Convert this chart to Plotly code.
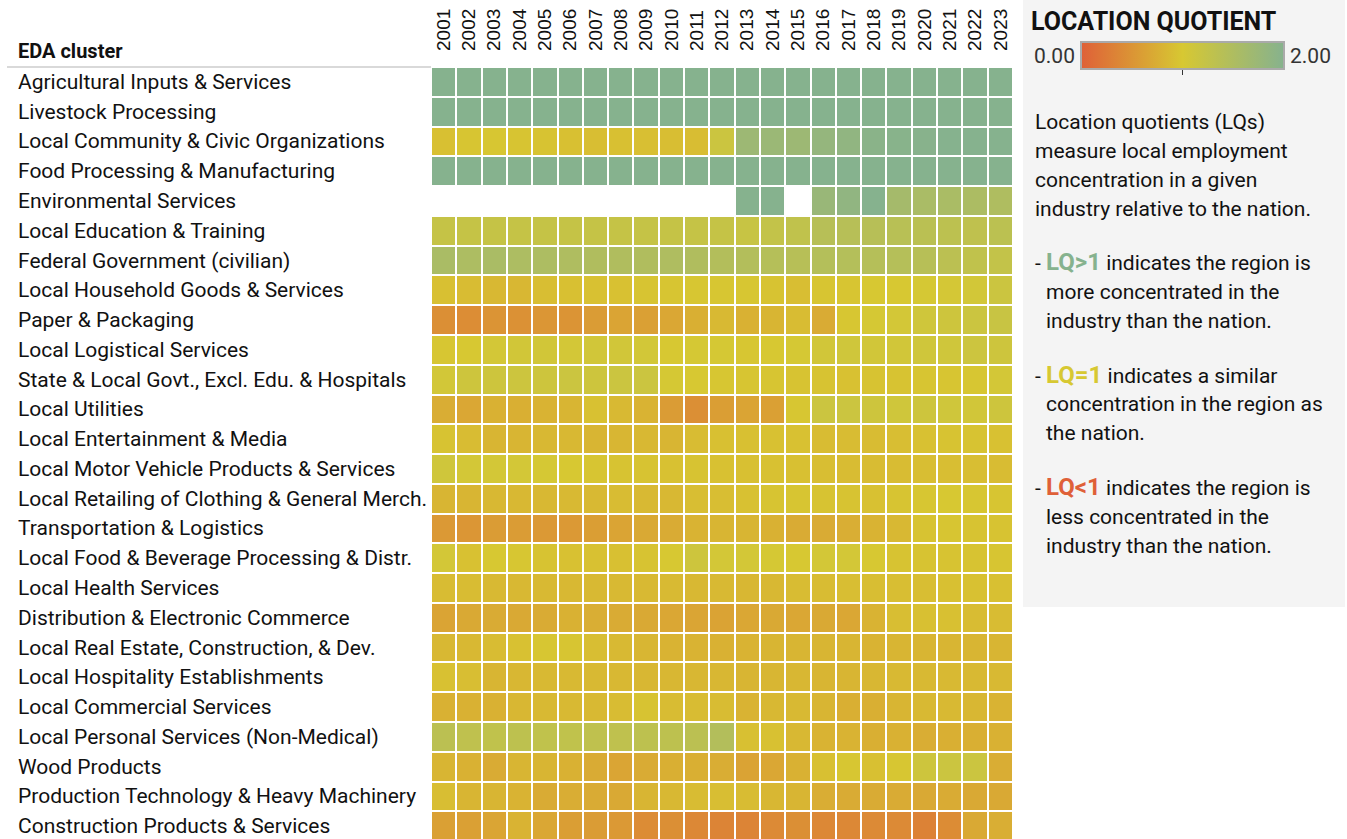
import plotly.graph_objects as go

W, H = 1347, 839

years = [str(y) for y in range(2001, 2024)]

clusters = [
    "Agricultural Inputs & Services",
    "Livestock Processing",
    "Local Community & Civic Organizations",
    "Food Processing & Manufacturing",
    "Environmental Services",
    "Local Education & Training",
    "Federal Government (civilian)",
    "Local Household Goods & Services",
    "Paper & Packaging",
    "Local Logistical Services",
    "State & Local Govt., Excl. Edu. & Hospitals",
    "Local Utilities",
    "Local Entertainment & Media",
    "Local Motor Vehicle Products & Services",
    "Local Retailing of Clothing & General Merch.",
    "Transportation & Logistics",
    "Local Food & Beverage Processing & Distr.",
    "Local Health Services",
    "Distribution & Electronic Commerce",
    "Local Real Estate, Construction, & Dev.",
    "Local Hospitality Establishments",
    "Local Commercial Services",
    "Local Personal Services (Non-Medical)",
    "Wood Products",
    "Production Technology & Heavy Machinery",
    "Construction Products & Services",
]

N = None
agricultural_inputs = [3.4, 3.5, 3.5, 3.6, 3.5, 3.4, 3.3, 3.3, 3.2, 3.2, 3.1, 3.1, 3.0, 3.0, 2.9, 2.9, 2.9, 2.8, 2.8, 2.8, 2.7, 2.7, 2.6]
livestock_processing = [4.2, 4.3, 4.4, 4.3, 4.2, 4.1, 4.0, 4.0, 3.9, 3.8, 3.8, 3.7, 3.7, 3.6, 3.6, 3.5, 3.5, 3.4, 3.4, 3.3, 3.3, 3.2, 3.2]
local_community = [0.92, 0.97, 0.98, 0.96, 0.95, 0.92, 0.90, 0.92, 0.91, 0.90, 0.89, 1.15, 1.72, 1.74, 1.72, 1.82, 1.86, 1.95, 1.97, 1.98, 2.0, 2.0, 2.0]
food_processing = [2.6, 2.6, 2.7, 2.7, 2.6, 2.6, 2.5, 2.5, 2.5, 2.4, 2.4, 2.4, 2.3, 2.3, 2.3, 2.3, 2.2, 2.2, 2.2, 2.2, 2.1, 2.1, 2.1]
environmental = [N, N, N, N, N, N, N, N, N, N, N, N, 2.05, 2.05, N, 1.76, 1.86, 2.02, 1.62, 1.56, 1.55, 1.53, 1.50]
local_education = [1.22, 1.22, 1.22, 1.22, 1.22, 1.22, 1.22, 1.22, 1.22, 1.22, 1.22, 1.22, 1.20, 1.25, 1.28, 1.40, 1.40, 1.40, 1.38, 1.36, 1.33, 1.30, 1.34]
federal_government = [1.55, 1.52, 1.55, 1.52, 1.52, 1.50, 1.48, 1.48, 1.48, 1.50, 1.48, 1.45, 1.45, 1.42, 1.40, 1.43, 1.43, 1.42, 1.42, 1.40, 1.35, 1.28, 1.25]
local_household = [0.92, 0.88, 0.85, 0.84, 0.90, 0.92, 0.93, 0.93, 0.96, 0.97, 0.98, 0.98, 0.98, 0.95, 0.90, 0.97, 0.97, 1.00, 1.00, 1.02, 1.04, 1.06, 1.15]
paper_packaging = [0.45, 0.43, 0.50, 0.47, 0.52, 0.50, 0.58, 0.65, 0.62, 0.68, 0.76, 0.86, 0.78, 0.82, 0.88, 0.72, 0.98, 1.02, 1.05, 1.10, 1.12, 1.15, 1.18]
local_logistical = [0.98, 1.00, 1.05, 1.07, 1.07, 1.05, 1.08, 1.08, 1.06, 1.00, 1.02, 1.02, 0.98, 1.00, 1.02, 1.08, 1.10, 1.08, 1.08, 1.10, 1.10, 1.14, 1.12]
state_local_govt = [1.06, 1.12, 1.12, 1.13, 1.12, 1.15, 1.12, 1.15, 1.15, 1.02, 1.00, 0.98, 0.97, 0.97, 0.95, 0.95, 0.93, 0.95, 0.95, 0.97, 0.97, 0.98, 1.05]
local_utilities = [0.74, 0.68, 0.78, 0.76, 0.80, 0.82, 0.93, 0.86, 0.80, 0.58, 0.45, 0.60, 0.65, 0.62, 0.98, 1.15, 1.15, 1.12, 1.10, 1.12, 1.10, 1.08, 1.12]
local_entertainment = [0.95, 0.88, 0.82, 0.82, 0.85, 0.85, 0.82, 0.83, 0.85, 0.82, 0.88, 0.92, 0.92, 0.93, 0.93, 0.88, 0.88, 0.88, 0.90, 0.93, 0.95, 0.95, 0.93]
local_motor_vehicle = [1.10, 1.05, 1.05, 1.05, 1.02, 1.00, 0.97, 0.95, 0.95, 0.93, 0.95, 0.93, 0.92, 0.93, 0.92, 0.90, 0.88, 0.88, 0.88, 0.90, 0.90, 0.90, 0.88]
local_retailing = [0.82, 0.82, 0.85, 0.85, 0.85, 0.86, 0.86, 0.88, 0.86, 0.85, 0.90, 0.90, 0.93, 0.96, 0.97, 0.95, 0.95, 0.93, 0.96, 0.98, 1.00, 0.98, 0.97]
transportation = [0.55, 0.52, 0.58, 0.58, 0.55, 0.55, 0.60, 0.65, 0.70, 0.72, 0.80, 0.82, 0.82, 0.78, 0.72, 0.72, 0.75, 0.80, 0.85, 0.95, 0.97, 0.95, 0.95]
local_food_beverage = [1.05, 0.93, 1.00, 0.98, 0.95, 0.93, 0.93, 0.92, 0.95, 1.00, 1.12, 1.05, 1.05, 1.02, 1.00, 1.05, 1.05, 1.00, 0.95, 0.95, 0.95, 0.95, 0.97]
local_health = [0.88, 0.88, 0.86, 0.85, 0.86, 0.85, 0.86, 0.86, 0.86, 0.87, 0.85, 0.86, 0.84, 0.85, 0.88, 0.88, 0.90, 0.90, 0.90, 0.90, 0.92, 0.93, 0.92]
distribution = [0.65, 0.70, 0.72, 0.70, 0.72, 0.78, 0.75, 0.72, 0.70, 0.68, 0.66, 0.64, 0.68, 0.70, 0.68, 0.70, 0.68, 0.80, 0.90, 0.92, 0.92, 0.88, 0.88]
local_real_estate = [0.85, 0.85, 0.88, 0.93, 0.98, 0.97, 0.90, 0.86, 0.83, 0.80, 0.80, 0.78, 0.80, 0.82, 0.82, 0.82, 0.82, 0.80, 0.82, 0.82, 0.82, 0.82, 0.82]
local_hospitality = [0.93, 0.90, 0.82, 0.84, 0.86, 0.86, 0.86, 0.85, 0.84, 0.84, 0.84, 0.84, 0.82, 0.83, 0.84, 0.82, 0.82, 0.84, 0.86, 0.86, 0.86, 0.86, 0.86]
local_commercial = [0.78, 0.78, 0.78, 0.84, 0.86, 0.86, 0.86, 0.88, 0.95, 0.88, 0.88, 0.88, 0.80, 0.85, 0.86, 0.82, 0.76, 0.76, 0.82, 0.86, 0.86, 0.84, 0.80]
local_personal = [1.35, 1.30, 1.28, 1.32, 1.28, 1.28, 1.30, 1.30, 1.32, 1.32, 1.35, 1.45, 0.92, 0.93, 0.85, 0.80, 0.80, 0.76, 0.78, 0.74, 0.76, 0.76, 0.78]
wood_products = [0.82, 0.78, 0.72, 0.82, 0.82, 0.78, 0.72, 0.66, 0.72, 0.76, 0.76, 0.74, 0.64, 0.68, 0.78, 0.92, 0.98, 0.92, 0.98, 1.12, 1.15, 1.15, 0.74]
production_tech = [0.90, 0.82, 0.82, 0.80, 0.72, 0.74, 0.72, 0.70, 0.82, 0.85, 0.88, 0.90, 0.88, 0.84, 0.82, 0.74, 0.72, 0.72, 0.72, 0.70, 0.72, 0.70, 0.70]
construction_products = [0.62, 0.62, 0.66, 0.80, 0.68, 0.60, 0.58, 0.55, 0.42, 0.45, 0.38, 0.35, 0.35, 0.40, 0.45, 0.38, 0.38, 0.40, 0.40, 0.33, 0.42, 0.70, 0.75]

z = [
    agricultural_inputs, livestock_processing, local_community, food_processing,
    environmental, local_education, federal_government, local_household,
    paper_packaging, local_logistical, state_local_govt, local_utilities,
    local_entertainment, local_motor_vehicle, local_retailing, transportation,
    local_food_beverage, local_health, distribution, local_real_estate,
    local_hospitality, local_commercial, local_personal, wood_products,
    production_tech, construction_products,
]

RED, YEL, GRN = "#df6038", "#d7c832", "#86b28e"
colorscale = [[0.0, RED], [0.5, YEL], [1.0, GRN]]

def px(x):
    return x / W

def py(y):
    return 1 - y / H

FONT = "Roboto"
rows = list(range(len(clusters)))

fig = go.Figure()
fig.add_trace(go.Heatmap(
    z=z, x=years, y=rows,
    zmin=0, zmax=2, colorscale=colorscale,
    xgap=2, ygap=2, hoverongaps=False,
    colorbar=dict(
        orientation="h", x=px(1182.5), xanchor="center", y=py(58.5), yanchor="middle",
        len=203, lenmode="pixels", thickness=27, thicknessmode="pixels",
        outlinecolor="#aaaaaa", outlinewidth=2,
        tickvals=[1], ticks="outside", ticklen=5, tickcolor="#333333",
        showticklabels=False, xpad=0, ypad=0,
    ),
))

fig.update_layout(
    width=W, height=H,
    margin=dict(l=0, r=0, t=0, b=0),
    paper_bgcolor="white", plot_bgcolor="white",
    xaxis=dict(
        domain=[px(431), px(1013)], side="top", type="category",
        tickangle=-90, tickfont=dict(family="Liberation Sans, Arial", size=19, color="#111"),
        ticklabelstandoff=15,
        showgrid=False, zeroline=False, ticks="", automargin=False,
    ),
    yaxis=dict(
        domain=[0, py(67)], range=[25.43, -0.5], showticklabels=False,
        showgrid=False, zeroline=False, ticks="", automargin=False,
    ),
    showlegend=False,
)

ann = []
for i, name in enumerate(clusters):
    ann.append(dict(x=px(16), xref="paper", y=i, yref="y", text=name, showarrow=False,
                    xanchor="left", yanchor="middle",
                    font=dict(family=FONT, size=21, color="#111")))

ann.append(dict(x=px(16), xref="paper", y=py(51), yref="paper", text="<b>EDA cluster</b>",
                showarrow=False, xanchor="left", yanchor="middle",
                font=dict(family=FONT, size=20, color="#111")))

ann.append(dict(x=px(1029), xref="paper", y=py(22), yref="paper", text="<b>LOCATION QUOTIENT</b>",
                showarrow=False, xanchor="left", yanchor="middle",
                font=dict(family=FONT, size=25, color="#111")))
ann.append(dict(x=px(1077), xref="paper", y=py(56), yref="paper", text="0.00",
                showarrow=False, xanchor="right", yanchor="middle",
                font=dict(family=FONT, size=21, color="#333")))
ann.append(dict(x=px(1288), xref="paper", y=py(56), yref="paper", text="2.00",
                showarrow=False, xanchor="left", yanchor="middle",
                font=dict(family=FONT, size=21, color="#333")))


def lq(label, color):
    return f"<b><span style='color:{color};font-size:24px'>{label}</span></b>"


panel_lines = [
    (1033, 122, "Location quotients (LQs)"),
    (1033, 151, "measure local employment"),
    (1033, 180, "concentration in a given"),
    (1033, 209, "industry relative to the nation."),
    (1033, 262, "- " + lq("LQ>1", GRN) + " indicates the region is"),
    (1044, 292, "more concentrated in the"),
    (1044, 321, "industry than the nation."),
    (1033, 375, "- " + lq("LQ=1", YEL) + " indicates a similar"),
    (1044, 404, "concentration in the region as"),
    (1044, 433, "the nation."),
    (1033, 487, "- " + lq("LQ<1", RED) + " indicates the region is"),
    (1044, 517, "less concentrated in the"),
    (1044, 546, "industry than the nation."),
]
for x0, y0, t in panel_lines:
    ann.append(dict(x=px(x0), xref="paper", y=py(y0), yref="paper", text=t,
                    showarrow=False, xanchor="left", yanchor="middle",
                    font=dict(family=FONT, size=21, color="#111")))

fig.update_layout(annotations=ann)

fig.add_shape(type="rect", xref="paper", yref="paper",
              x0=px(1023), x1=px(1345), y0=py(607), y1=py(0),
              fillcolor="#f4f4f4", line=dict(width=0), layer="below")
fig.add_shape(type="line", xref="paper", yref="paper",
              x0=px(7), x1=px(431), y0=py(67), y1=py(67),
              line=dict(color="#cccccc", width=1.5))

fig.write_html(
    "out.html",
    config={"displayModeBar": False},
    post_script="document.body.style.margin='0';document.body.style.overflow='hidden';",
)
